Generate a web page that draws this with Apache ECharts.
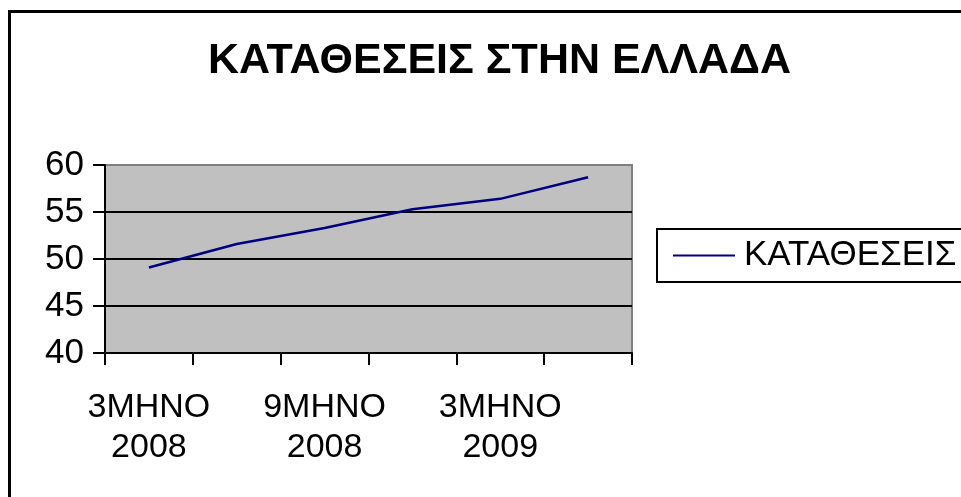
<!DOCTYPE html>
<html>
<head>
<meta charset="utf-8">
<style>
  html, body { margin: 0; padding: 0; background: #fff; }
  #chart { width: 961px; height: 497px; }
</style>
<script src="https://cdn.jsdelivr.net/npm/echarts@6/dist/echarts.min.js"></script>
</head>
<body>
<div id="chart"></div>
<script>
// quarters (cumulative periods) shown on the x axis
var periods = ['3ΜΗΝΟ\n2008', '6ΜΗΝΟ\n2008', '9ΜΗΝΟ\n2008', '12ΜΗΝΟ\n2008', '3ΜΗΝΟ\n2009', '6ΜΗΝΟ\n2009']
var deposits = [49.1, 51.6, 53.3, 55.3, 56.4, 58.7]
var seriesName = 'ΚΑΤΑΘΕΣΕΙΣ'
var chartTitle = 'ΚΑΤΑΘΕΣΕΙΣ ΣΤΗΝ ΕΛΛΑΔΑ'

var font = '"Liberation Sans", Arial, sans-serif'
var chart = echarts.init(document.getElementById('chart'))

chart.setOption({
  backgroundColor: '#fff',
  animation: false,
  textStyle: { fontFamily: font },
  title: {
    text: chartTitle,
    left: 203,
    top: 35,
    textStyle: {
      fontFamily: font,
      fontWeight: 'bold',
      fontSize: 43,
      color: '#000'
    }
  },
  // outer chart frame, runs off the right and bottom edge
  graphic: [{
    type: 'rect',
    shape: { x: 9.5, y: 11.5, width: 1000, height: 520 },
    style: { fill: 'none', stroke: '#000', lineWidth: 3 },
    silent: true
  }],
  legend: {
    data: [seriesName],
    left: 657,
    top: 229,
    orient: 'vertical',
    icon: 'rect',
    itemWidth: 62,
    itemHeight: 2,
    itemGap: 0,
    padding: [9, 30, 9, 16],
    borderColor: '#000',
    borderWidth: 2,
    textStyle: {
      fontFamily: font,
      fontSize: 35,
      color: '#000',
      padding: [0, 0, 0, 4]
    }
  },
  grid: {
    left: 105,
    right: 329,
    top: 165,
    bottom: 144,
    show: true,
    backgroundColor: '#c0c0c0',
    borderColor: '#808080',
    borderWidth: 2
  },
  xAxis: {
    type: 'category',
    boundaryGap: true,
    data: periods,
    axisLine: { lineStyle: { color: '#000', width: 2 } },
    axisTick: { show: true, interval: 0, length: 12, lineStyle: { color: '#000', width: 2 } },
    axisLabel: {
      interval: 1,
      fontFamily: font,
      fontSize: 34,
      lineHeight: 40,
      color: '#000',
      margin: 35
    },
    splitLine: { show: false }
  },
  yAxis: {
    type: 'value',
    min: 40,
    max: 60,
    interval: 5,
    axisLine: { show: true, lineStyle: { color: '#000', width: 2 } },
    axisTick: { show: true, length: 12, lineStyle: { color: '#000', width: 2 } },
    axisLabel: {
      fontFamily: font,
      fontSize: 35,
      color: '#000',
      margin: 21
    },
    splitLine: {
      show: true,
      lineStyle: { color: ['#000', '#000', '#000', '#000', '#808080'], width: 2 }
    }
  },
  series: [{
    name: seriesName,
    type: 'line',
    data: deposits,
    showSymbol: false,
    symbol: 'none',
    color: '#000080',
    lineStyle: { color: '#000080', width: 2.5 }
  }]
})
</script>
</body>
</html>
